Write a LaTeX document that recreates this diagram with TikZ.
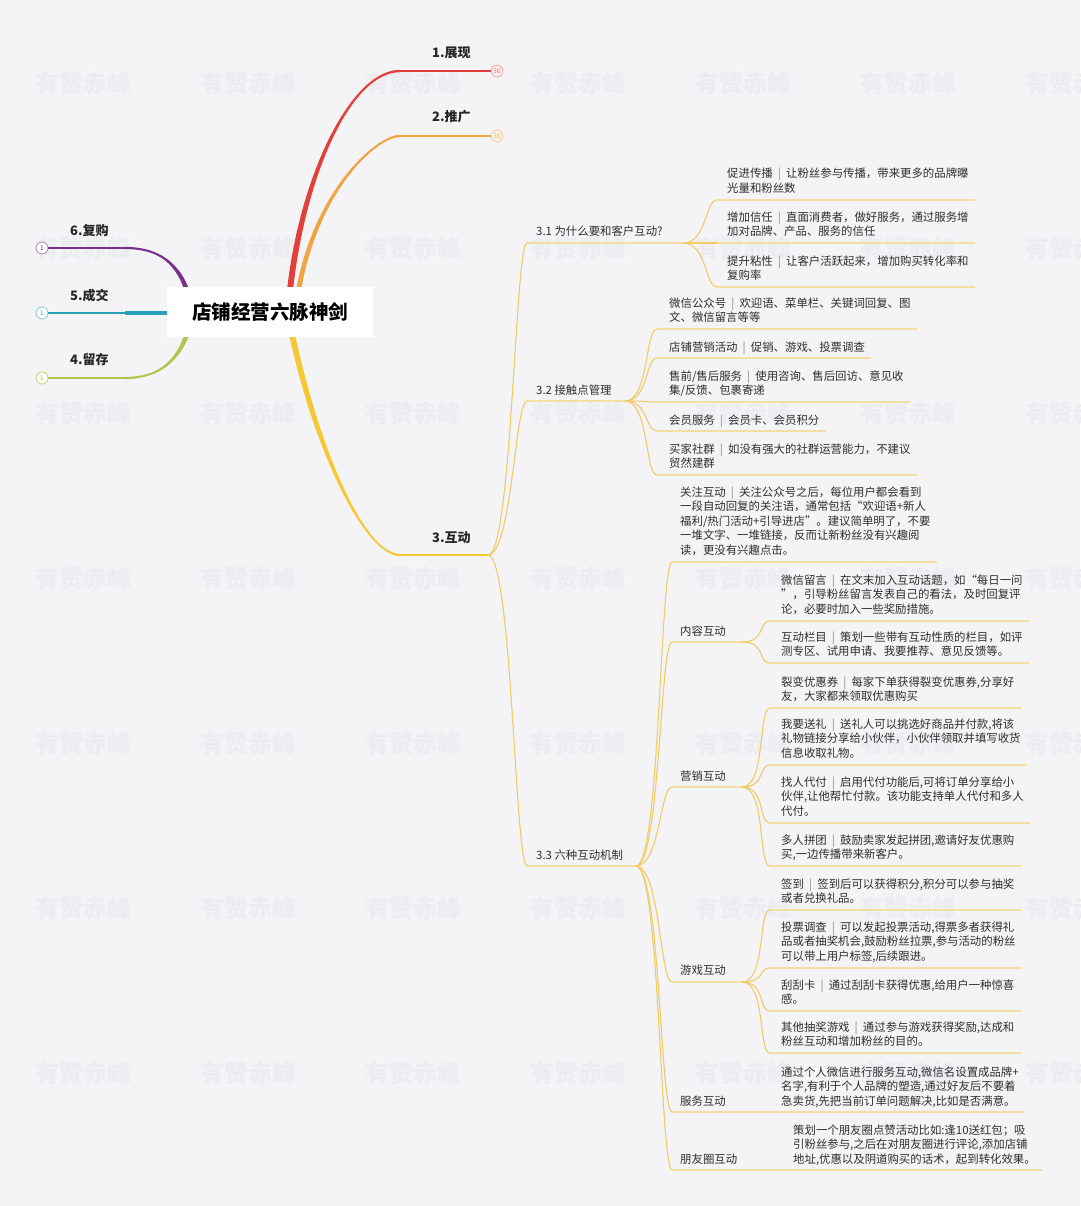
\documentclass[tikz,border=0pt]{standalone}
\usepackage{fontspec}
\setmainfont{Noto Sans CJK SC}
\usetikzlibrary{calc}
\definecolor{bgc}{HTML}{F4F4F7}
\definecolor{wmc}{HTML}{EDEDF1}
\definecolor{txtc}{HTML}{2E2E2E}
\definecolor{sepc}{HTML}{888888}
\definecolor{redc}{HTML}{E2403A}
\definecolor{orac}{HTML}{F0A445}
\definecolor{yelc}{HTML}{F6C833}
\definecolor{purc}{HTML}{7A2E8C}
\definecolor{tealc}{HTML}{2A9FB8}
\definecolor{grnc}{HTML}{AFC64E}
\definecolor{connc}{HTML}{F0CB66}
\definecolor{ulc}{HTML}{F4DEA2}
\newcommand\sepbar{\hspace{0.45em}{\color{sepc}|}\hspace{0.45em}}
\newcommand\mmlink[2]{\draw[conn] (#1) .. controls +(24,0) and +(-12,0) .. (#2);}
\newcommand\itemline[1]{\draw[uline] (#1L) -- ($(#1L -| #1.east)+(6,0)$);}
\begin{document}
\begin{tikzpicture}[x=1pt,y=-1pt,
  wm/.style={font=\fontsize{24}{24}\selectfont\bfseries, text=wmc, inner sep=0pt},
  item/.style={anchor=base west, align=left, inner sep=0pt, font=\fontsize{11.4}{14.6}\selectfont, text=txtc},
  lbl/.style={anchor=base west, inner sep=0pt, font=\fontsize{11.4}{14.6}\selectfont, text=txtc},
  mainlbl/.style={anchor=base west, inner sep=0pt, font=\fontsize{13}{14}\selectfont\bfseries, text=black!85},
  conn/.style={draw=connc, line width=1.1pt},
  uline/.style={draw=ulc, line width=1.2pt},
  circ/.style={circle, minimum size=12pt, inner sep=0pt, line width=0.8pt, font=\fontsize{6.5}{7}\selectfont}
]
\fill[bgc] (0,0) rectangle (1080,1206);
\useasboundingbox (0,0) rectangle (1080,1206);

% watermark
\foreach \i in {0,...,6}{\foreach \j in {0,...,6}{
  \node[wm] (wm\i\j) at ({83+165*\i},{83+165*\j}) {有赞赤峰};}}

% ---- main branches (tapered) ----
\fill[redc] (286,300) .. controls (297,180) and (350,69.8) .. (400,69.8) -- (400,72.2) .. controls (350,72.2) and (303,180) .. (292,300) -- cycle;
\fill[orac] (294.5,300) .. controls (309.5,195) and (375,134.8) .. (400,134.8) -- (400,137.2) .. controls (375,137.2) and (314.5,195) .. (299.5,300) -- cycle;
\fill[yelc] (292,320) .. controls (318,450) and (365,553.9) .. (400,553.9) -- (400,556.1) .. controls (365,556.1) and (312,450) .. (286,320) -- cycle;
\fill[purc] (187.5,300) .. controls (177.5,262) and (158,249.1) .. (125,249.1) -- (125,246.9) .. controls (158,246.9) and (182.5,262) .. (192.5,300) -- cycle;
\fill[grnc] (192.5,325) .. controls (182.5,362) and (158,379.1) .. (125,379.1) -- (125,376.9) .. controls (158,376.9) and (177.5,362) .. (187.5,325) -- cycle;

\coordinate (r1s) at (399,71);
\coordinate (r2s) at (399,136);
\coordinate (r3s) at (399,555);
\coordinate (b3) at (488,555);
\coordinate (l6s) at (126,248);
\coordinate (l5s) at (170,313);
\coordinate (l4s) at (126,378);

\node[circ, draw=redc!45, fill=redc!10, text=redc!70] (k1) at (497,71) {36};
\node[circ, draw=orac!55, fill=orac!12, text=orac!80] (k2) at (497,136) {36};
\node[circ, draw=purc!60, fill=white, text=purc] (k6) at (42,248) {1};
\node[circ, draw=tealc!60, fill=white, text=tealc] (k5) at (42,313) {1};
\node[circ, draw=grnc!80, fill=white, text=grnc!90!black] (k4) at (42,378) {1};

\draw[redc, line width=2.2pt] (r1s) -- (k1);
\draw[orac, line width=2.2pt] (r2s) -- (k2);
\draw[yelc, line width=2.2pt] (r3s) -- (b3);
\draw[purc, line width=2.2pt] (l6s) -- (k6);
\draw[grnc, line width=2.2pt] (l4s) -- (k4);
\draw[tealc, line width=2.2pt] (l5s) -- (k5);
\draw[tealc, line width=3.6pt] (l5s) -- ++(-45,0);

% root
\node[fill=white, minimum width=206pt, minimum height=50pt, inner sep=0pt,
      font=\fontsize{19.5}{20}\selectfont\bfseries, text=black] (root) at (270,312) {店铺经营六脉神剑};

% main labels
\node[mainlbl] (m1) at (432,58) {1.展现};
\node[mainlbl] (m2) at (432,122) {2.推广};
\node[mainlbl] (m3) at (432,542) {3.互动};
\node[mainlbl] (m6) at (70,236) {6.复购};
\node[mainlbl] (m5) at (70,300) {5.成交};
\node[mainlbl] (m4) at (70,364) {4.留存};

% ---- 3.1 ----
\node[lbl] (n31) at (536,236) {3.1 为什么要和客户互动?};
\coordinate (n31L) at (527,243); \coordinate (n31R) at (683,243);
\node[item] (c311) at (727,192.6) {促进传播\sepbar 让粉丝参与传播，带来更多的品牌曝\\光量和粉丝数};
\coordinate (c311L) at (717,200);
\node[item] (c312) at (727,235.6) {增加信任\sepbar 直面消费者，做好服务，通过服务增\\加对品牌、产品、服务的信任};
\coordinate (c312L) at (717,243);
\node[item] (c313) at (727,279.6) {提升粘性\sepbar 让客户活跃起来，增加购买转化率和\\复购率};
\coordinate (c313L) at (717,287);

% ---- 3.2 ----
\node[lbl] (n32) at (536,394) {3.2 接触点管理};
\coordinate (n32L) at (527,401); \coordinate (n32R) at (625,401);
\node[item] (c321) at (669,321.6) {微信公众号\sepbar 欢迎语、菜单栏、关键词回复、图\\文、微信留言等等};
\coordinate (c321L) at (657,329);
\node[item] (c322) at (669,351) {店铺营销活动\sepbar 促销、游戏、投票调查};
\coordinate (c322L) at (657,358);
\node[item] (c323) at (669,394.6) {售前/售后服务\sepbar 使用咨询、售后回访、意见收\\集/反馈、包裹寄递};
\coordinate (c323L) at (657,402);
\node[item] (c324) at (669,424) {会员服务\sepbar 会员卡、会员积分};
\coordinate (c324L) at (657,431);
\node[item] (c325) at (669,467.6) {买家社群\sepbar 如没有强大的社群运营能力，不建议\\贸然建群};
\coordinate (c325L) at (657,475);

% ---- 3.3 ----
\node[lbl] (n33) at (536,859) {3.3 六种互动机制};
\coordinate (n33L) at (527,866); \coordinate (n33R) at (636,866);

\node[item] (c331) at (680,554.4) {关注互动\sepbar 关注公众号之后，每位用户都会看到\\一段自动回复的关注语，通常包括“欢迎语+新人\\福利/热门活动+引导进店”。建议简单明了，不要\\一堆文字、一堆链接，反而让新粉丝没有兴趣阅\\读，更没有兴趣点击。};
\coordinate (c331L) at (672,562);

\node[lbl] (c332) at (680,635) {内容互动};
\coordinate (c332L) at (672,642); \coordinate (c332R) at (742,642);
\node[item] (c3321) at (781,613.2) {微信留言\sepbar 在文末加入互动话题，如“每日一问\\”，引导粉丝留言发表自己的看法，及时回复评\\论，必要时加入一些奖励措施。};
\coordinate (c3321L) at (770,621);
\node[item] (c3322) at (781,655.6) {互动栏目\sepbar 策划一些带有互动性质的栏目，如评\\测专区、试用申请、我要推荐、意见反馈等。};
\coordinate (c3322L) at (770,663);

\node[lbl] (c333) at (680,780) {营销互动};
\coordinate (c333L) at (672,787); \coordinate (c333R) at (742,787);
\node[item] (c3331) at (781,700.6) {裂变优惠券\sepbar 每家下单获得裂变优惠券,分享好\\友，大家都来领取优惠购买};
\coordinate (c3331L) at (770,708);
\node[item] (c3332) at (781,757.2) {我要送礼\sepbar 送礼人可以挑选好商品并付款,将该\\礼物链接分享给小伙伴，小伙伴领取并填写收货\\信息收取礼物。};
\coordinate (c3332L) at (770,765);
\node[item] (c3333) at (781,815.2) {找人代付\sepbar 启用代付功能后,可将订单分享给小\\伙伴,让他帮忙付款。该功能支持单人代付和多人\\代付。};
\coordinate (c3333L) at (770,823);
\node[item] (c3334) at (781,858.6) {多人拼团\sepbar 鼓励卖家发起拼团,邀请好友优惠购\\买,一边传播带来新客户。};
\coordinate (c3334L) at (770,866);

\node[lbl] (c334) at (680,974) {游戏互动};
\coordinate (c334L) at (672,982); \coordinate (c334R) at (742,982);
\node[item] (c3341) at (781,902.6) {签到\sepbar 签到后可以获得积分,积分可以参与抽奖\\或者兑换礼品。};
\coordinate (c3341L) at (770,910);
\node[item] (c3342) at (781,960.2) {投票调查\sepbar 可以发起投票活动,得票多者获得礼\\品或者抽奖机会,鼓励粉丝拉票,参与活动的粉丝\\可以带上用户标签,后续跟进。};
\coordinate (c3342L) at (770,968);
\node[item] (c3343) at (781,1003.6) {刮刮卡\sepbar 通过刮刮卡获得优惠,给用户一种惊喜\\感。};
\coordinate (c3343L) at (770,1011);
\node[item] (c3344) at (781,1045.6) {其他抽奖游戏\sepbar 通过参与游戏获得奖励,达成和\\粉丝互动和增加粉丝的目的。};
\coordinate (c3344L) at (770,1053);

\node[lbl] (c335) at (680,1105) {服务互动};
\coordinate (c335L) at (672,1112);
\node[item] (c335d) at (781,1105.2) {通过个人微信进行服务互动,微信名设置成品牌+\\名字,有利于个人品牌的塑造,通过好友后不要着\\急卖货,先把当前订单问题解决,比如是否满意。};

\node[lbl] (c336) at (680,1163) {朋友圈互动};
\coordinate (c336L) at (672,1170);
\node[item] (c336d) at (793,1163.2) {策划一个朋友圈点赞活动比如:逢10送红包；吸\\引粉丝参与,之后在对朋友圈进行评论,添加店铺\\地址,优惠以及阴道购买的话术，起到转化效果。};

% ---- underlines ----
\draw[uline] (n31L) -- (n31R);
\draw[uline] (n32L) -- (n32R);
\draw[uline] (n33L) -- (n33R);
\draw[uline] (c332L) -- (c332R);
\draw[uline] (c333L) -- (c333R);
\draw[uline] (c334L) -- (c334R);
\foreach \n in {c311,c312,c313,c321,c322,c323,c324,c325,c331,c3321,c3322,c3331,c3332,c3333,c3334,c3341,c3342,c3343,c3344}{\itemline{\n}}
\draw[uline] (c335L) -- ($(c335L -| c335d.east)+(6,0)$);
\draw[uline] (c336L) -- ($(c336L -| c336d.east)+(6,0)$);

% ---- connectors ----
\mmlink{b3}{n31L}
\mmlink{b3}{n32L}
\mmlink{b3}{n33L}
\foreach \c in {c311L,c312L,c313L}{\mmlink{n31R}{\c}}
\foreach \c in {c321L,c322L,c323L,c324L,c325L}{\mmlink{n32R}{\c}}
\foreach \c in {c331L,c332L,c333L,c334L,c335L,c336L}{\mmlink{n33R}{\c}}
\foreach \c in {c3321L,c3322L}{\mmlink{c332R}{\c}}
\foreach \c in {c3331L,c3332L,c3333L,c3334L}{\mmlink{c333R}{\c}}
\foreach \c in {c3341L,c3342L,c3343L,c3344L}{\mmlink{c334R}{\c}}
\end{tikzpicture}
\end{document}
